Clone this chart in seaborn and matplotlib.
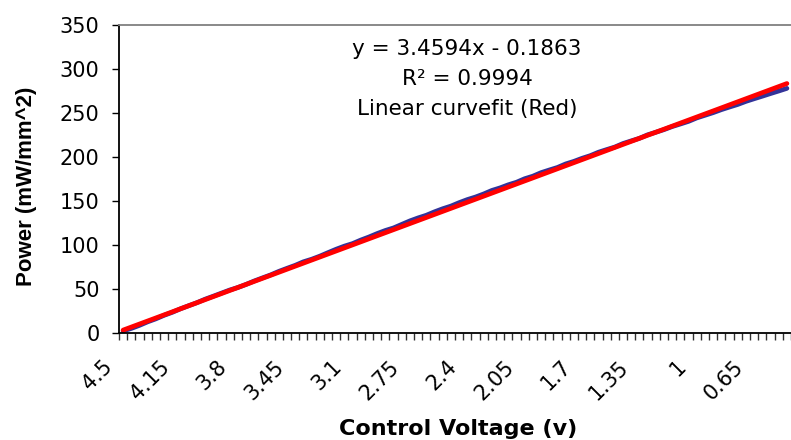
import matplotlib
matplotlib.use("Agg")
import matplotlib.pyplot as plt
from matplotlib.transforms import ScaledTranslation
import numpy as np
import pandas as pd
import seaborn as sns

# Control voltage settings (categories, swept downward in 0.05 V steps)
voltages = [4.5, 4.45, 4.4, 4.35, 4.3, 4.25, 4.2, 4.15, 4.1, 4.05,
            4.0, 3.95, 3.9, 3.85, 3.8, 3.75, 3.7, 3.65, 3.6, 3.55,
            3.5, 3.45, 3.4, 3.35, 3.3, 3.25, 3.2, 3.15, 3.1, 3.05,
            3.0, 2.95, 2.9, 2.85, 2.8, 2.75, 2.7, 2.65, 2.6, 2.55,
            2.5, 2.45, 2.4, 2.35, 2.3, 2.25, 2.2, 2.15, 2.1, 2.05,
            2.0, 1.95, 1.9, 1.85, 1.8, 1.75, 1.7, 1.65, 1.6, 1.55,
            1.5, 1.45, 1.4, 1.35, 1.3, 1.25, 1.2, 1.15, 1.1, 1.05,
            1.0, 0.95, 0.9, 0.85, 0.8, 0.75, 0.7, 0.65, 0.6, 0.55,
            0.5, 0.45]

# Measured optical power density (mW/mm^2)
power = [2.3, 5.2, 8.7, 12.7, 16.1, 20.1, 23.5, 27.5, 31.0, 34.4,
         38.4, 41.8, 45.3, 48.8, 51.7, 55.2, 59.1, 62.6, 66.0, 70.0,
         73.5, 76.9, 80.9, 83.8, 87.3, 91.3, 95.2, 98.7, 101.6, 105.6,
         109.1, 113.0, 116.5, 119.4, 123.4, 127.4, 130.8, 133.8, 137.7, 141.2,
         144.2, 148.1, 151.6, 154.5, 158.0, 162.0, 164.9, 168.4, 171.3, 175.3,
         178.2, 182.2, 185.2, 188.1, 192.1, 195.0, 198.5, 201.5, 205.4, 208.4,
         211.3, 215.3, 218.3, 221.2, 225.2, 228.1, 231.1, 234.6, 237.5, 240.5,
         244.4, 247.4, 250.4, 253.8, 256.8, 259.7, 263.2, 266.2, 269.1, 272.1,
         275.0, 278.0]

# Linear trendline coefficients (x = sample number, starting at 1)
slope = 3.4594
intercept = -0.1863
r_squared = 0.9994

label_step = 7

df = pd.DataFrame({"pos": np.arange(len(voltages)), "voltage": voltages, "power": power})
df["fit"] = slope * (df["pos"] + 1) + intercept

sns.set_theme(style="white")
plt.rcParams["font.family"] = ["DejaVu Sans"]
plt.rcParams["text.color"] = "black"
plt.rcParams["axes.labelcolor"] = "black"

fig = plt.figure(figsize=(7.91, 4.40), dpi=100)
ax = fig.add_axes([119 / 791, 1 - 333 / 440, 672 / 791, 308 / 440])

sns.lineplot(data=df, x="pos", y="power", color="#333399", linewidth=3.4, ax=ax)
sns.lineplot(data=df, x="pos", y="fit", color="#FF0000", linewidth=3.4, ax=ax)

ax.set_xlim(-0.5, len(voltages) - 0.5)
ax.set_ylim(0, 350)

# y axis
ax.set_yticks(np.arange(0, 351, 50))
ax.tick_params(axis="y", which="major", direction="out", length=5, width=1,
               color="#000000", labelsize=15, pad=9, left=True, labelcolor="black")

# x axis: tick marks between categories, labels on every 7th category
ax.set_xticks(np.arange(-0.5, len(voltages), 1.0), minor=True)
major_pos = list(range(0, len(voltages), label_step))
ax.set_xticks(major_pos)
ax.set_xticklabels(["{:g}".format(voltages[i]) for i in major_pos],
                   rotation=45, ha="right", va="top", rotation_mode="anchor")
ax.tick_params(axis="x", which="major", length=0, labelsize=15, pad=17, labelcolor="black")
ax.tick_params(axis="x", which="minor", direction="out", length=5, width=1,
               color="#333333", bottom=True)
shift = ScaledTranslation(-21 / 100, 0, fig.dpi_scale_trans)
for lbl in ax.get_xticklabels():
    lbl.set_transform(lbl.get_transform() + shift)

# frame
for side in ["left", "bottom"]:
    ax.spines[side].set_color("#000000")
    ax.spines[side].set_linewidth(1.3)
ax.spines["top"].set_color("#808080")
ax.spines["top"].set_linewidth(1.3)
ax.spines["right"].set_visible(False)

ax.set_xlabel("Control Voltage (v)", fontsize=16, fontweight="bold", color="black")
ax.xaxis.set_label_coords(0.504, -0.312)
ax.xaxis.label.set_va("center")
ax.set_ylabel("Power (mW/mm^2)", fontsize=16, fontweight="bold", color="black",
              family=["Liberation Sans", "DejaVu Sans"])
ax.yaxis.set_label_coords(-0.137, 0.477)
ax.yaxis.label.set_va("center")

# trendline annotation
ann_x = 0.518
ax.text(ann_x, 0.9026, "y = {:.4f}x - {:.4f}".format(slope, -intercept),
        transform=ax.transAxes, ha="center", va="baseline", fontsize=15.5, color="black")
ax.text(ann_x, 0.805, "R\u00b2 = {:.4f}".format(r_squared),
        transform=ax.transAxes, ha="center", va="baseline", fontsize=15.5, color="black")
ax.text(ann_x, 0.708, "Linear curvefit (Red)",
        transform=ax.transAxes, ha="center", va="baseline", fontsize=15.5, color="black")

fig.savefig("out.png", dpi=100)
